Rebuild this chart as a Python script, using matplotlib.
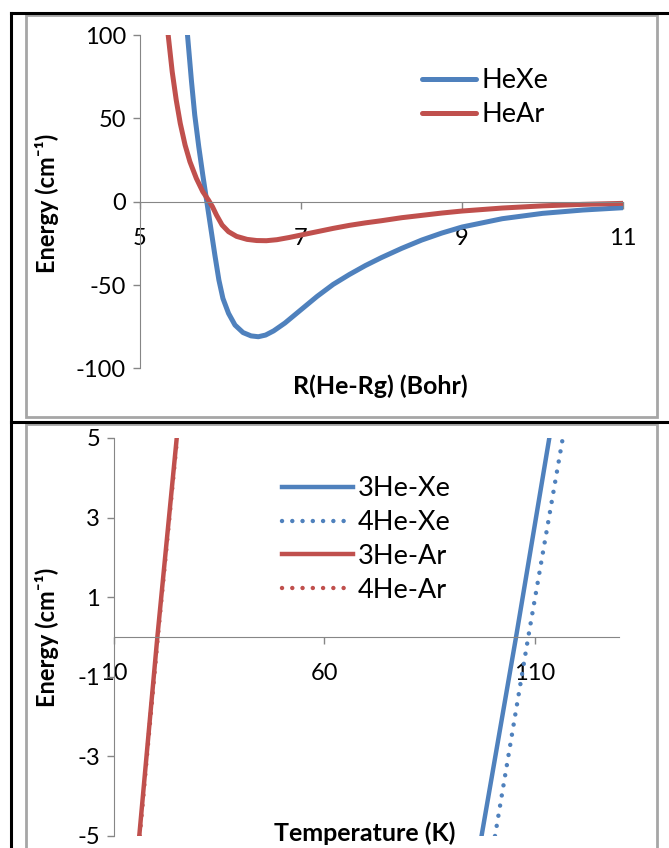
import numpy as np
import matplotlib
matplotlib.use('Agg')
import matplotlib.pyplot as plt
from matplotlib.lines import Line2D

plt.rcParams['font.family'] = ['Lato', 'DejaVu Sans']
plt.rcParams['axes.unicode_minus'] = False

# --- data ---
# top panel: potential curves
r_xe = [5.59, 5.64, 5.68, 5.73, 5.78, 5.83, 5.88, 5.93, 5.98, 6.03, 6.10, 6.18, 6.28,
        6.38, 6.47, 6.56, 6.66, 6.80, 7.0, 7.2, 7.4, 7.6, 7.8, 8.0, 8.25, 8.5, 8.75,
        9.0, 9.5, 10.0, 10.5, 11.0]
e_xe = [100, 72, 52, 33, 16, 0, -16, -32, -47, -58, -67, -74, -78.5,
        -80.5, -81, -80, -77.5, -72.8, -64.8, -56.8, -49.6, -43.7, -38.3, -33.5, -28, -23, -18.8,
        -15.2, -10.2, -7, -5, -3.6]
r_ar = [5.35, 5.40, 5.45, 5.50, 5.56, 5.62, 5.70, 5.78, 5.85, 5.90, 5.95, 6.02, 6.10,
        6.20, 6.33, 6.45, 6.57, 6.70, 6.85, 7.0, 7.2, 7.4, 7.6, 7.8, 8.0, 8.25, 8.5,
        8.75, 9.0, 9.5, 10.0, 10.5, 11.0]
e_ar = [100, 78, 61, 47, 34, 24, 14, 6, 1, -3, -8, -14, -18,
        -20.8, -22.6, -23.3, -23.4, -22.8, -21.5, -20, -18, -16, -14.2, -12.7, -11.4, -9.6, -8.2,
        -6.8, -5.6, -3.8, -2.5, -1.6, -1.0]

# bottom panel: energy vs temperature
e_lev = [-5, 0, 5]
t_3he_xe = [97.3, 105.5, 113.4]
t_4he_xe = [100.5, 108.4, 116.6]
t_3he_ar = [16.0, 20.3, 24.9]
t_4he_ar = [16.1, 20.4, 25.0]

blue = '#4F81BD'
red = '#C0504D'
grey = '#868686'
W, H = 669, 848

fig = plt.figure(figsize=(W / 100, H / 100), dpi=100)

def px(x0, y0, x1, y1):
    # pixel box -> figure fraction rect
    return [x0 / W, 1 - y1 / H, (x1 - x0) / W, (y1 - y0) / H]

def excel_axes(ax):
    for s in ['top', 'right']:
        ax.spines[s].set_visible(False)
    ax.spines['left'].set_color(grey)
    ax.spines['bottom'].set_color(grey)
    ax.spines['bottom'].set_position(('data', 0))
    ax.tick_params(axis='both', colors=grey, labelcolor='black', direction='out',
                   length=5, width=1, labelsize=17)
    ax.tick_params(axis='x', pad=14)
    ax.tick_params(axis='y', pad=5)

# frames (table lines + chart borders)
for (x0, y0, x1, y1) in [(26, 15, 657, 417), (26, 424, 657, 860)]:
    fig.add_artist(plt.Rectangle((x0 / W, 1 - y1 / H), (x1 - x0) / W, (y1 - y0) / H,
                                 transform=fig.transFigure, fill=False,
                                 edgecolor='#a6a6a6', linewidth=2))
fig.add_artist(Line2D([11 / W, 1], [1 - 13 / H, 1 - 13 / H], transform=fig.transFigure,
                      color='black', linewidth=2.2))
fig.add_artist(Line2D([11 / W, 11 / W], [0, 1 - 13 / H], transform=fig.transFigure,
                      color='black', linewidth=2.2))
fig.add_artist(Line2D([11 / W, 1], [1 - 421.5 / H, 1 - 421.5 / H], transform=fig.transFigure,
                      color='black', linewidth=2.2))

# ---- top panel ----
ax1 = fig.add_axes(px(140, 35, 623, 368.4))
ax1.plot(r_xe, e_xe, color=blue, lw=3.6, label='HeXe', solid_capstyle='round')
ax1.plot(r_ar, e_ar, color=red, lw=3.6, label='HeAr', solid_capstyle='round')
ax1.set_xlim(5, 11)
ax1.set_ylim(-100, 100)
ax1.set_xticks([5, 7, 9, 11])
ax1.set_yticks([-100, -50, 0, 50, 100])
excel_axes(ax1)
ax1.legend(loc='upper left', bbox_to_anchor=(422 / W, 1 - 68.5 / H), bbox_transform=fig.transFigure,
           frameon=False, fontsize=19.5, handlelength=2.0, handletextpad=0.18,
           labelspacing=0.33, borderpad=0, borderaxespad=0)
fig.text(47 / W, 1 - 203 / H, 'Energy (cm⁻¹)', rotation=90, ha='center', va='center',
         fontsize=17, fontweight='bold')
fig.text(380 / W, 1 - 386 / H, 'R(He-Rg) (Bohr)', ha='center', va='center',
         fontsize=18, fontweight='bold')

# ---- bottom panel ----
ax2 = fig.add_axes(px(114, 438, 619.2, 836))
dots = (0, (0.01, 2.3))
ax2.plot(t_3he_xe, e_lev, color=blue, lw=3.2, label='3He-Xe')
ax2.plot(t_4he_xe, e_lev, color=blue, lw=3.2, ls=dots, dash_capstyle='round', label='4He-Xe')
ax2.plot(t_3he_ar, e_lev, color=red, lw=3.2, label='3He-Ar')
ax2.plot(t_4he_ar, e_lev, color=red, lw=3.2, ls=dots, dash_capstyle='round', label='4He-Ar')
ax2.set_xlim(10, 130)
ax2.set_ylim(-5, 5)
ax2.set_xticks([10, 60, 110])
ax2.set_yticks([-5, -3, -1, 1, 3, 5])
excel_axes(ax2)
ax2.legend(loc='upper left', bbox_to_anchor=(282 / W, 1 - 476.5 / H), bbox_transform=fig.transFigure,
           frameon=False, fontsize=19.5, handlelength=2.62, handletextpad=0.16,
           labelspacing=0.32, borderpad=0, borderaxespad=0)
fig.text(47 / W, 1 - 637 / H, 'Energy (cm⁻¹)', rotation=90, ha='center', va='center',
         fontsize=17, fontweight='bold')
fig.text(365 / W, 1 - 833 / H, 'Temperature (K)', ha='center', va='center',
         fontsize=18, fontweight='bold')

fig.savefig('out.png', dpi=100)
